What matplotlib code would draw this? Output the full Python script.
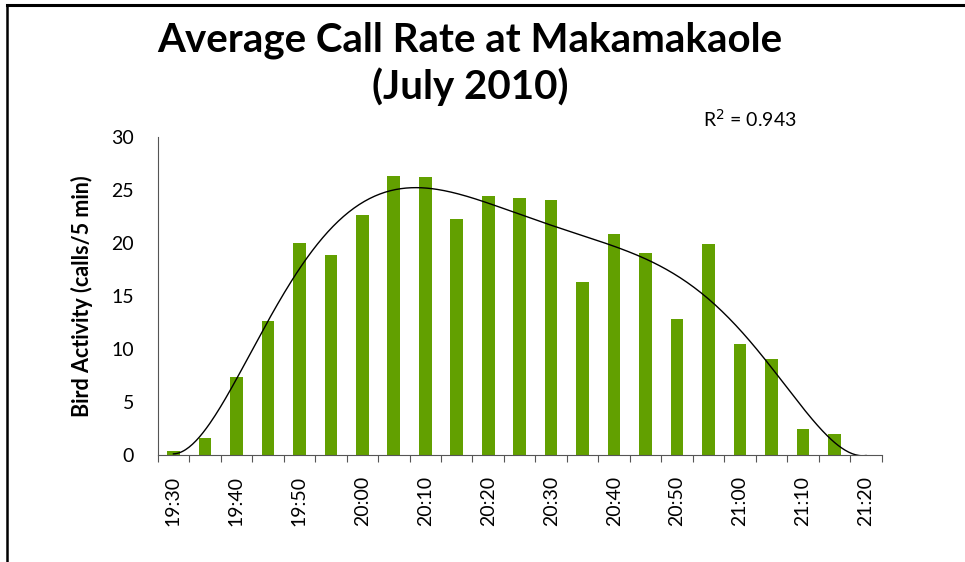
import numpy as np
import matplotlib
matplotlib.use("Agg")
import matplotlib.pyplot as plt
from matplotlib.lines import Line2D

# 5-minute bins, 19:30 .. 21:20
times = ["19:30", "19:35", "19:40", "19:45", "19:50", "19:55", "20:00", "20:05",
         "20:10", "20:15", "20:20", "20:25", "20:30", "20:35", "20:40", "20:45",
         "20:50", "20:55", "21:00", "21:05", "21:10", "21:15", "21:20"]
calls = [0.35, 1.6, 7.4, 12.6, 20.0, 18.9, 22.6, 26.35, 26.25, 22.3, 24.45, 24.2,
         24.1, 16.3, 20.85, 19.1, 12.8, 19.9, 10.5, 9.1, 2.45, 2.0]
r2_label = "R$^2$ = 0.943"

plt.rcParams['font.family'] = ['Lato', 'DejaVu Sans']

fig = plt.figure(figsize=(9.65, 5.62), dpi=100)
ax = fig.add_axes([0.1634, 0.1904, 0.7503, 0.5658])

x = np.arange(len(calls))
ax.bar(x, calls, width=0.4, color='#62a000', zorder=2)

# 6th order polynomial trendline
coef = np.polyfit(x, calls, 6)
xs = np.linspace(0, len(times) - 1, 400)
ax.plot(xs, np.polyval(coef, xs), color='black', lw=1.0, zorder=3)

ax.set_xlim(-0.5, len(times) - 0.5)
ax.set_ylim(0, 30)
ax.set_yticks(range(0, 31, 5))
ax.tick_params(axis='y', length=0, pad=17, labelsize=14)

# tick marks between categories, labels every 10 min
ax.set_xticks(np.arange(-0.5, len(times), 1.0))
ax.set_xticklabels([])
ax.tick_params(axis='x', which='major', length=5, direction='out', color='#555555')
lab_pos = np.arange(0, len(times), 2)
ax.set_xticks(lab_pos, minor=True)
ax.set_xticklabels([times[i] for i in lab_pos], minor=True, rotation=90)
ax.tick_params(axis='x', which='minor', length=0, pad=15, labelsize=14)

for s in ['top', 'right']:
    ax.spines[s].set_visible(False)
ax.spines['left'].set_color('#555555')
ax.spines['bottom'].set_color('#555555')

ax.set_ylabel("Bird Activity (calls/5 min)", fontsize=15.5, fontweight='bold')
ax.yaxis.set_label_coords(-0.090, 0.5)

fig.text(0.487, 0.928, "Average Call Rate at Makamakaole", ha='center', va='center',
         fontsize=29, fontweight='bold')
fig.text(0.487, 0.846, "(July 2010)", ha='center', va='center',
         fontsize=29, fontweight='bold')
fig.text(0.777, 0.788, r2_label, ha='center', va='center', fontsize=14)

# frame lines of the original screenshot
fig.add_artist(Line2D([0.0075, 1.0], [0.991, 0.991], color='black', lw=2.2))
fig.add_artist(Line2D([0.0075, 0.0075], [0.0, 0.991], color='black', lw=1.8))

fig.savefig("out.png", dpi=100)
